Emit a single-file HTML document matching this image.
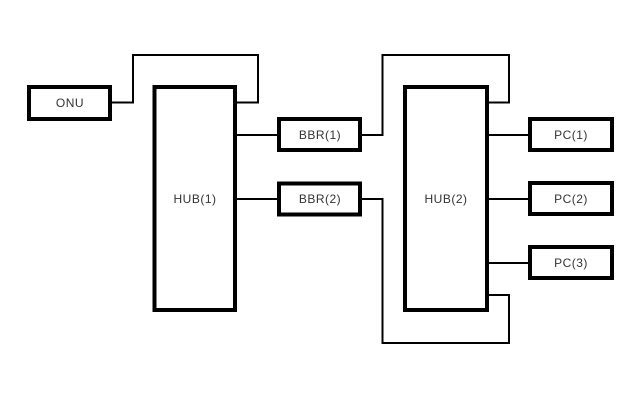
<!DOCTYPE html>
<html><head><style>body{margin:0;background:#fff}</style></head><body>
<svg width="640" height="400" xmlns="http://www.w3.org/2000/svg" style="display:block">
<rect width="640" height="400" fill="#fff"/>
<g fill="none" stroke="#000" stroke-width="2">
<polyline points="112,102.5 133,102.5 133,55 258,55 258,102.5 237,102.5"/>
<line x1="237" y1="135" x2="277" y2="135"/>
<line x1="237" y1="199" x2="277" y2="199"/>
<polyline points="362,135 382.5,135 382.5,55 509,55 509,102.5 489,102.5"/>
<polyline points="362,199 382.5,199 382.5,343 509,343 509,295 489,295"/>
<line x1="489" y1="135" x2="528" y2="135"/>
<line x1="489" y1="199" x2="528" y2="199"/>
<line x1="489" y1="263" x2="528" y2="263"/>
</g>
<g fill="#fff" stroke="#000" stroke-width="4">
<rect x="29" y="87" width="81" height="32"/>
<rect x="154.5" y="87" width="80.5" height="223"/>
<rect x="279" y="119" width="81" height="31"/>
<rect x="279" y="183.5" width="81" height="31"/>
<rect x="405" y="87" width="82" height="223"/>
<rect x="530" y="119" width="82" height="31"/>
<rect x="530" y="183" width="82" height="31"/>
<rect x="530" y="247" width="82" height="31"/>
</g>
<g font-family="Liberation Sans, sans-serif" font-size="12" fill="#333" text-anchor="middle" letter-spacing="0.5">
<text x="70" y="107">ONU</text>
<text x="195" y="203">HUB(1)</text>
<text x="320" y="139">BBR(1)</text>
<text x="320" y="203">BBR(2)</text>
<text x="446" y="203">HUB(2)</text>
<text x="571" y="139">PC(1)</text>
<text x="571" y="203">PC(2)</text>
<text x="571" y="267">PC(3)</text>
</g>
</svg>
</body></html>
